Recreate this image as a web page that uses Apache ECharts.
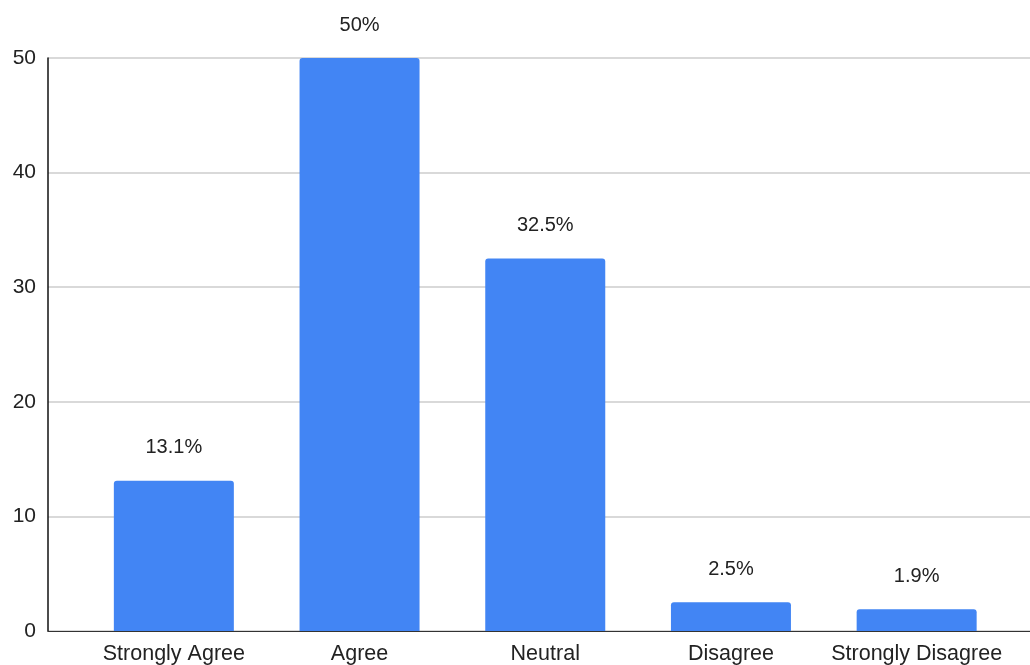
<!DOCTYPE html>
<html>
<head>
<meta charset="utf-8">
<script src="https://cdn.jsdelivr.net/npm/echarts@6/dist/echarts.min.js"></script>
<style>
  html, body { margin: 0; padding: 0; background: #fff; }
  #chart { width: 1030px; height: 665px; }
</style>
</head>
<body>
<div id="chart"></div>
<script>
var categories = ['Strongly Agree', 'Agree', 'Neutral', 'Disagree', 'Strongly Disagree'];
var values = [13.1, 50, 32.5, 2.5, 1.9];
var yTicks = {min: 0, max: 50, interval: 10};

var myChart = echarts.init(document.getElementById('chart'));
var font = 'Liberation Sans, Arial, sans-serif';
var option = {
    animation: false,
    grid: [
        // frame: y axis, gridlines, baseline
        {left: 48, right: 0, top: 58, bottom: 34},
        // bars sit in a slightly narrower band
        {left: 81, right: 20.5, top: 58, bottom: 34}
    ],
    xAxis: [
        {
            gridIndex: 0,
            type: 'value',
            min: 0,
            max: 1,
            axisLine: {show: true, onZero: false, lineStyle: {color: '#333', width: 1}},
            axisTick: {show: false},
            axisLabel: {show: false},
            splitLine: {show: false}
        },
        {
            gridIndex: 1,
            type: 'category',
            data: categories,
            axisLine: {show: false},
            axisTick: {show: false},
            axisLabel: {
                color: '#222',
                fontSize: 21.5,
                fontFamily: font,
                margin: 12,
                interval: 0
            }
        }
    ],
    yAxis: [
        {
            gridIndex: 0,
            type: 'value',
            min: yTicks.min,
            max: yTicks.max,
            interval: yTicks.interval,
            axisLine: {show: true, lineStyle: {color: '#111', width: 1.5}},
            axisTick: {show: false},
            axisLabel: {color: '#222', fontSize: 21, fontFamily: font, margin: 12},
            splitLine: {show: true, lineStyle: {color: '#cccccc', width: 1.5}}
        },
        {
            gridIndex: 1,
            type: 'value',
            min: yTicks.min,
            max: yTicks.max,
            show: false
        }
    ],
    series: [
        {
            type: 'bar',
            xAxisIndex: 1,
            yAxisIndex: 1,
            data: values,
            barWidth: 120,
            itemStyle: {color: '#4285f4', borderRadius: [3, 3, 0, 0]},
            label: {
                show: true,
                position: 'top',
                distance: 23,
                formatter: '{c}%',
                color: '#222',
                fontSize: 20,
                fontFamily: font
            }
        }
    ]
};
myChart.setOption(option);
</script>
</body>
</html>
